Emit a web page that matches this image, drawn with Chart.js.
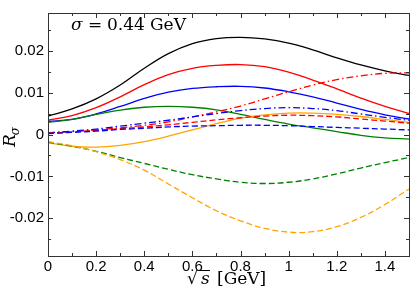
<!DOCTYPE html>
<html>
<head>
<meta charset="utf-8">
<script src="https://cdn.jsdelivr.net/npm/chart.js@4/dist/chart.umd.min.js"></script>
<style>
  html, body { margin: 0; padding: 0; background: #fff; }
  #chart { display: block; }
</style>
</head>
<body>
<canvas id="chart" width="412" height="294"></canvas>
<script>
// --- data (sqrt(s) in GeV, R_sigma) ---
const xs = [0, 0.1, 0.2, 0.3, 0.4, 0.5, 0.6, 0.7, 0.8, 0.9, 1.0, 1.1, 1.2, 1.3, 1.4, 1.5];

const blackSolid  = [0.0044, 0.0061, 0.0085, 0.0118, 0.0158, 0.0193, 0.0217, 0.0229, 0.0232, 0.0228, 0.0218, 0.0202, 0.0183, 0.0166, 0.0152, 0.0141];
const redSolid    = [0.0034, 0.0045, 0.0064, 0.0090, 0.0119, 0.0143, 0.0158, 0.0165, 0.0167, 0.0162, 0.0149, 0.0130, 0.0109, 0.0087, 0.0067, 0.0050];
const blueSolid   = [0.0031, 0.0036, 0.0049, 0.0067, 0.0086, 0.0101, 0.0110, 0.0114, 0.0115, 0.0111, 0.0102, 0.0090, 0.0075, 0.0060, 0.0047, 0.0037];
const greenSolid  = [0.0029, 0.0036, 0.0048, 0.0058, 0.0065, 0.0067, 0.0065, 0.0059, 0.0048, 0.0036, 0.0025, 0.0016, 0.0007, -0.0002, -0.0008, -0.0011];
const orangeSolid = [-0.0020, -0.0028, -0.0030, -0.0026, -0.0017, -0.0004, 0.0011, 0.0026, 0.0039, 0.0047, 0.0051, 0.0051, 0.0048, 0.0043, 0.0036, 0.0029];

const redDashDot  = [0.0004, 0.0007, 0.0011, 0.0016, 0.0022, 0.0030, 0.0042, 0.0054, 0.0068, 0.0085, 0.0102, 0.0118, 0.0131, 0.0140, 0.0146, 0.0147];
const blueDashDot = [0.0004, 0.0008, 0.0013, 0.0020, 0.0027, 0.0034, 0.0042, 0.0050, 0.0057, 0.0062, 0.0064, 0.0062, 0.0057, 0.0049, 0.0041, 0.0034];

const redDashed    = [0.0003, 0.0006, 0.0010, 0.0014, 0.0018, 0.0023, 0.0029, 0.0035, 0.0040, 0.0044, 0.0046, 0.0045, 0.0042, 0.0037, 0.0032, 0.0027];
const blueDashed   = [0.0002, 0.0005, 0.0008, 0.0012, 0.0015, 0.0018, 0.0020, 0.0021, 0.0022, 0.0022, 0.0021, 0.0019, 0.0017, 0.0015, 0.0013, 0.0011];
const greenDashed  = [-0.0018, -0.0028, -0.0040, -0.0055, -0.0069, -0.0083, -0.0096, -0.0106, -0.0114, -0.0117, -0.0114, -0.0106, -0.0094, -0.0080, -0.0067, -0.0055];
const orangeDashed = [-0.0017, -0.0027, -0.0041, -0.0060, -0.0085, -0.0118, -0.0151, -0.0182, -0.0206, -0.0224, -0.0233, -0.0232, -0.0220, -0.0198, -0.0167, -0.0130];

// axes
const xTickValues = [0, 0.2, 0.4, 0.6, 0.8, 1.0, 1.2, 1.4];
const xTickLabels = ['0', '0.2', '0.4', '0.6', '0.8', '1', '1.2', '1.4'];
const xMinorTicks = [0.1, 0.3, 0.5, 0.7, 0.9, 1.1, 1.3];
const yTickValues = [-0.02, -0.01, 0, 0.01, 0.02];
const yTickLabels = ['-0.02', '-0.01', '0', '0.01', '0.02'];
const yMinorTicks = [-0.025, -0.015, -0.005, 0.005, 0.015, 0.025];

const SOLID = [];
const DASH = [6, 3];
const DASHDOT = [7, 3, 1.5, 3];

function series(values, color, dash) {
    return {
        data: xs.map((x, i) => ({ x: x, y: values[i] })),
        borderColor: color,
        borderWidth: 1.3,
        borderDash: dash,
        pointRadius: 0,
        fill: false,
        tension: 0.4
    };
}

// inward ticks on all four sides + frame
const frameTicks = {
    id: 'frameTicks',
    afterDatasetsDraw(chart) {
        const { ctx, chartArea: a, scales } = chart;
        const xS = scales.x, yS = scales.y;
        ctx.save();
        ctx.strokeStyle = '#333';
        ctx.lineWidth = 1;
        ctx.beginPath();
        const tick = (px, len, vertical) => {
            if (vertical) {
                ctx.moveTo(px, a.bottom); ctx.lineTo(px, a.bottom - len);
                ctx.moveTo(px, a.top); ctx.lineTo(px, a.top + len);
            } else {
                ctx.moveTo(a.left, px); ctx.lineTo(a.left + len, px);
                ctx.moveTo(a.right, px); ctx.lineTo(a.right - len, px);
            }
        };
        xTickValues.forEach(v => tick(Math.round(xS.getPixelForValue(v)) + 0.5, 5, true));
        xMinorTicks.forEach(v => tick(Math.round(xS.getPixelForValue(v)) + 0.5, 3, true));
        yTickValues.forEach(v => tick(Math.round(yS.getPixelForValue(v)) + 0.5, 5, false));
        yMinorTicks.forEach(v => tick(Math.round(yS.getPixelForValue(v)) + 0.5, 3, false));
        ctx.stroke();
        ctx.strokeRect(a.left + 0.5, a.top + 0.5, a.right - a.left, a.bottom - a.top);
        ctx.restore();
    }
};

// serif labels: annotation, axis titles
const labels = {
    id: 'labels',
    afterDraw(chart) {
        const ctx = chart.ctx;
        ctx.save();
        ctx.fillStyle = '#000';
        ctx.textBaseline = 'alphabetic';
        ctx.textAlign = 'left';

        // sigma = 0.44 GeV
        ctx.font = 'italic 17px "DejaVu Serif"';
        ctx.fillText('σ', 71, 30);
        ctx.font = '17px "DejaVu Serif"';
        ctx.fillText('=', 88, 30);
        ctx.fillText('0.44', 107, 30);
        ctx.fillText('GeV', 150, 30);

        // x title: sqrt(s) [GeV]
        ctx.font = '17px "DejaVu Serif"';
        ctx.fillText('√', 187, 284);
        ctx.font = 'italic 17px "DejaVu Serif"';
        ctx.fillText('s', 201, 284);
        ctx.fillRect(199, 270, 11, 1);
        ctx.font = '17px "DejaVu Serif"';
        ctx.fillText('[GeV]', 217, 284);

        // y title: R_sigma (rotated)
        ctx.translate(15, 147);
        ctx.rotate(-Math.PI / 2);
        ctx.font = 'italic 17px "DejaVu Serif"';
        ctx.fillText('R', 0, 0);
        const w = ctx.measureText('R').width;
        ctx.font = 'italic 12px "DejaVu Serif"';
        ctx.fillText('σ', w - 1, 4);
        ctx.restore();
    }
};

const tickFont = { family: '"Liberation Sans", Arial, sans-serif', size: 15 };

new Chart(document.getElementById('chart'), {
    type: 'line',
    data: {
        datasets: [
            series(orangeDashed, '#ffa500', DASH),
            series(greenDashed, '#008000', DASH),
            series(blueDashed, '#0000ff', DASH),
            series(redDashed, '#ff0000', DASH),
            series(blueDashDot, '#0000ff', DASHDOT),
            series(redDashDot, '#ff0000', DASHDOT),
            series(orangeSolid, '#ffa500', SOLID),
            series(greenSolid, '#008000', SOLID),
            series(blueSolid, '#0000ff', SOLID),
            series(redSolid, '#ff0000', SOLID),
            series(blackSolid, '#000000', SOLID)
        ]
    },
    options: {
        responsive: false,
        devicePixelRatio: 1,
        animation: false,
        layout: { padding: { left: 0, right: 3, top: 4, bottom: 0 } },
        plugins: {
            legend: { display: false },
            tooltip: { enabled: false }
        },
        scales: {
            x: {
                type: 'linear',
                min: 0,
                max: 1.5,
                grid: { display: false, drawTicks: false },
                border: { display: false },
                afterBuildTicks(scale) { scale.ticks = xTickValues.map(v => ({ value: v })); },
                afterFit(scale) { scale.height = 38; },
                ticks: {
                    padding: 2,
                    color: '#000',
                    font: tickFont,
                    maxRotation: 0,
                    autoSkip: false,
                    callback: (v, i) => xTickLabels[i]
                }
            },
            y: {
                type: 'linear',
                min: -0.029,
                max: 0.029,
                grid: { display: false, drawTicks: false },
                border: { display: false },
                afterBuildTicks(scale) { scale.ticks = yTickValues.map(v => ({ value: v })); },
                afterFit(scale) { scale.width = 48; },
                ticks: {
                    padding: 4,
                    color: '#000',
                    font: tickFont,
                    autoSkip: false,
                    callback: (v, i) => yTickLabels[i]
                }
            }
        }
    },
    plugins: [frameTicks, labels]
});
</script>
</body>
</html>
